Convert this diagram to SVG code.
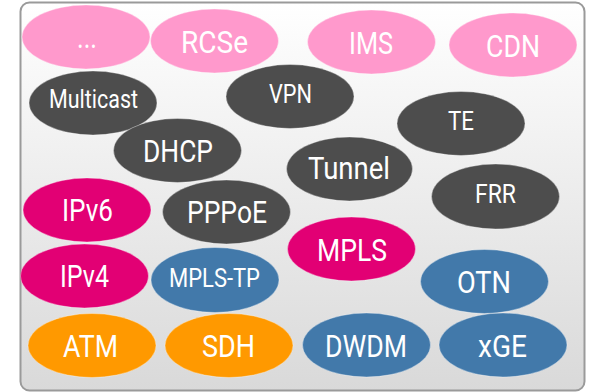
<svg xmlns="http://www.w3.org/2000/svg" width="591" height="392" viewBox="0 0 591 392">
<defs>
<linearGradient id="bg" x1="0" y1="0" x2="0" y2="1">
<stop offset="0" stop-color="#ffffff"/>
<stop offset="1" stop-color="#d9d9d9"/>
</linearGradient>
</defs>
<style>
.n{stroke:#ffffff;stroke-opacity:0.35;stroke-width:1}
.pk{fill:#ff99cc}
.dg{fill:#4d4d4d}
.mg{fill:#e20074}
.bl{fill:#4279aa}
.or{fill:#ff9900}
text{font-family:Roboto,"Liberation Sans",sans-serif;fill:#ffffff;text-anchor:middle}
.L{font-size:31px}
.S{font-size:26px}
</style>
<rect x="20.5" y="2.5" width="564" height="388" rx="9" fill="url(#bg)" stroke="#9a9a9a" stroke-width="2"/>
<g id="connectors"/>
<g id="n-dots"><ellipse class="n pk" cx="86" cy="37" rx="64" ry="32"/><text class="L" x="87" y="48" textLength="20" lengthAdjust="spacingAndGlyphs">...</text></g>
<g id="n-rcse"><ellipse class="n pk" cx="214.5" cy="41" rx="64" ry="32"/><text class="L" x="214.5" y="53" textLength="67" lengthAdjust="spacingAndGlyphs">RCSe</text></g>
<g id="n-ims"><ellipse class="n pk" cx="371.5" cy="42" rx="64" ry="32"/><text class="L" x="371" y="54" textLength="44" lengthAdjust="spacingAndGlyphs">IMS</text></g>
<g id="n-cdn"><ellipse class="n pk" cx="513" cy="45" rx="64" ry="32"/><text class="L" x="513" y="57" textLength="54" lengthAdjust="spacingAndGlyphs">CDN</text></g>
<g id="n-multicast"><ellipse class="n dg" cx="93" cy="103" rx="64" ry="32"/><text class="S" x="93.5" y="108" textLength="89" lengthAdjust="spacingAndGlyphs">Multicast</text></g>
<g id="n-vpn"><ellipse class="n dg" cx="290" cy="96.5" rx="64" ry="32"/><text class="S" x="290.5" y="103" textLength="43" lengthAdjust="spacingAndGlyphs">VPN</text></g>
<g id="n-dhcp"><ellipse class="n dg" cx="177.5" cy="150.5" rx="64" ry="32"/><text class="L" x="178" y="162" textLength="70" lengthAdjust="spacingAndGlyphs">DHCP</text></g>
<g id="n-te"><ellipse class="n dg" cx="461" cy="123.5" rx="64" ry="32"/><text class="S" x="461" y="130" textLength="26" lengthAdjust="spacingAndGlyphs">TE</text></g>
<g id="n-tunnel"><ellipse class="n dg" cx="349.5" cy="169" rx="63" ry="32"/><text class="L" x="349" y="179" textLength="82" lengthAdjust="spacingAndGlyphs">Tunnel</text></g>
<g id="n-frr"><ellipse class="n dg" cx="495.5" cy="196.5" rx="64" ry="32.5"/><text class="S" x="495.5" y="203" textLength="41" lengthAdjust="spacingAndGlyphs">FRR</text></g>
<g id="n-ipv6"><ellipse class="n mg" cx="87" cy="210" rx="64" ry="32"/><text class="L" x="87.5" y="221" textLength="51" lengthAdjust="spacingAndGlyphs">IPv6</text></g>
<g id="n-pppoe"><ellipse class="n dg" cx="226.5" cy="212" rx="64" ry="32"/><text class="L" x="227" y="223" textLength="80" lengthAdjust="spacingAndGlyphs">PPPoE</text></g>
<g id="n-mpls"><ellipse class="n mg" cx="351.5" cy="249" rx="64" ry="32"/><text class="L" x="352" y="261" textLength="70" lengthAdjust="spacingAndGlyphs">MPLS</text></g>
<g id="n-ipv4"><ellipse class="n mg" cx="84.5" cy="276" rx="64" ry="32"/><text class="L" x="84.5" y="287" textLength="49" lengthAdjust="spacingAndGlyphs">IPv4</text></g>
<g id="n-mplstp"><ellipse class="n bl" cx="215" cy="280" rx="64" ry="32.5"/><text class="S" x="214.5" y="287" textLength="91" lengthAdjust="spacingAndGlyphs">MPLS-TP</text></g>
<g id="n-otn"><ellipse class="n bl" cx="484.5" cy="281.5" rx="64" ry="32"/><text class="L" x="484" y="293" textLength="54" lengthAdjust="spacingAndGlyphs">OTN</text></g>
<g id="n-atm"><ellipse class="n or" cx="92" cy="345.5" rx="64" ry="32"/><text class="L" x="90.5" y="357" textLength="55" lengthAdjust="spacingAndGlyphs">ATM</text></g>
<g id="n-sdh"><ellipse class="n or" cx="229" cy="345.5" rx="64" ry="32"/><text class="L" x="228.5" y="357" textLength="53" lengthAdjust="spacingAndGlyphs">SDH</text></g>
<g id="n-dwdm"><ellipse class="n bl" cx="366.5" cy="345" rx="64" ry="32"/><text class="L" x="366" y="357" textLength="82" lengthAdjust="spacingAndGlyphs">DWDM</text></g>
<g id="n-xge"><ellipse class="n bl" cx="503" cy="345" rx="64" ry="32"/><text class="L" x="502.5" y="357" textLength="49" lengthAdjust="spacingAndGlyphs">xGE</text></g>
</svg>
